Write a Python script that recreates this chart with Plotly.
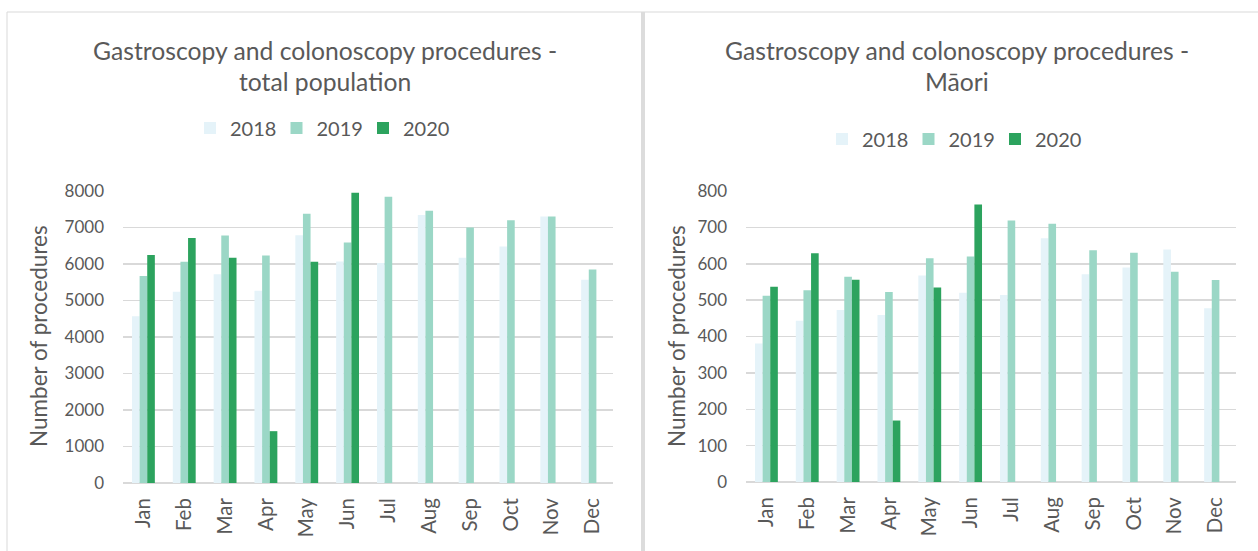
import plotly.graph_objects as go

months = ["Jan", "Feb", "Mar", "Apr", "May", "Jun", "Jul", "Aug", "Sep", "Oct", "Nov", "Dec"]

total_2018 = [4570, 5240, 5720, 5270, 6790, 6070, 6030, 7340, 6170, 6480, 7300, 5570]
total_2019 = [5670, 6060, 6780, 6230, 7380, 6590, 7840, 7460, 7000, 7200, 7300, 5850]
total_2020 = [6250, 6710, 6170, 1420, 6060, 7950, None, None, None, None, None, None]

maori_2018 = [381, 443, 473, 459, 568, 520, 514, 670, 571, 590, 639, 478]
maori_2019 = [512, 527, 564, 522, 615, 620, 719, 710, 637, 630, 578, 555]
maori_2020 = [537, 629, 556, 169, 535, 763, None, None, None, None, None, None]

years = ["2018", "2019", "2020"]
colors = ["#E5F3F9", "#9BD7C6", "#2CA35E"]

W, H = 1258, 551
FONT = "Lato"
TXT = "#595959"
GRID = "#D9D9D9"

def px(x):
    return x / W

def py(y):
    return 1 - y / H

fig = go.Figure()

for yr, col, vals in zip(years, colors, [total_2018, total_2019, total_2020]):
    fig.add_trace(go.Bar(x=months, y=vals, name=yr, marker_color=col,
                         marker_line_width=0, xaxis="x", yaxis="y", legend="legend"))
for yr, col, vals in zip(years, colors, [maori_2018, maori_2019, maori_2020]):
    fig.add_trace(go.Bar(x=months, y=vals, name=yr, marker_color=col,
                         marker_line_width=0, xaxis="x2", yaxis="y2", legend="legend2"))

xfont = dict(family=FONT, size=20.5, color=TXT)
yfont = dict(family=FONT, size=17, color=TXT)

xcommon = dict(tickangle=-90, tickfont=xfont, showgrid=False, zeroline=False,
               showline=False, ticks="", ticklabelstandoff=10, automargin=False, fixedrange=True)
ycommon = dict(tickfont=yfont, showgrid=True, gridcolor=GRID, gridwidth=1.5, showline=False,
               zeroline=True, zerolinecolor=GRID, zerolinewidth=2,
               ticks="", ticklabelstandoff=18, automargin=False, fixedrange=True)

legend_common = dict(orientation="h", xanchor="left", yanchor="middle",
                     font=dict(family=FONT, size=20, color=TXT), bgcolor="rgba(0,0,0,0)",
                     borderwidth=0, itemwidth=30, traceorder="normal",
                     entrywidth=41.5, entrywidthmode="pixels")

fig.update_layout(
    template="none",
    width=W, height=H, autosize=False,
    margin=dict(l=0, r=0, t=0, b=0, pad=0, autoexpand=False),
    paper_bgcolor="white", plot_bgcolor="white",
    barmode="group", bargap=0.44, bargroupgap=0,
    font=dict(family=FONT, color=TXT),
    xaxis=dict(domain=[px(123), px(613)], anchor="y", **xcommon),
    yaxis=dict(domain=[py(483), py(191)], anchor="x", range=[0, 8000],
               tickvals=[0, 1000, 2000, 3000, 4000, 5000, 6000, 7000, 8000], **ycommon),
    xaxis2=dict(domain=[px(746), px(1236)], anchor="y2", **xcommon),
    yaxis2=dict(domain=[py(482), py(191)], anchor="x2", range=[0, 800],
                tickvals=[0, 100, 200, 300, 400, 500, 600, 700, 800], **ycommon),
    legend=dict(x=px(190), y=py(128), **legend_common),
    legend2=dict(x=px(822), y=py(139), **legend_common),
    showlegend=True,
    hovermode=False,
)

title_font = dict(family=FONT, size=24.7, color=TXT)
annos = [
    dict(text="Gastroscopy and colonoscopy procedures -", x=px(325), y=py(50)),
    dict(text="total population", x=px(325), y=py(81)),
    dict(text="Gastroscopy and colonoscopy procedures -", x=px(957), y=py(50)),
    dict(text="Māori", x=px(957), y=py(81)),
]
for a in annos:
    fig.add_annotation(xref="paper", yref="paper", showarrow=False,
                       xanchor="center", yanchor="middle", font=title_font, **a)

for xx in [38, 676]:
    fig.add_annotation(xref="paper", yref="paper", showarrow=False, text="Number of procedures",
                       x=px(xx), y=py(336), xanchor="center", yanchor="middle", textangle=-90,
                       font=dict(family=FONT, size=22.5, color=TXT))

# panel borders
border = "#D9D9D9"
fig.add_shape(type="line", xref="paper", yref="paper", x0=px(7), x1=1, y0=py(12), y1=py(12),
              line=dict(color=border, width=1))
fig.add_shape(type="line", xref="paper", yref="paper", x0=px(7), x1=px(7), y0=py(12), y1=0,
              line=dict(color=border, width=1))
fig.add_shape(type="rect", xref="paper", yref="paper", x0=px(641), x1=px(645), y0=py(12), y1=0,
              line=dict(width=0), fillcolor="#DCDCDC")

fig.write_html("out.html", config={"displayModeBar": False, "staticPlot": True},
               post_script="document.body.style.margin='0';document.body.style.overflow='hidden';")
